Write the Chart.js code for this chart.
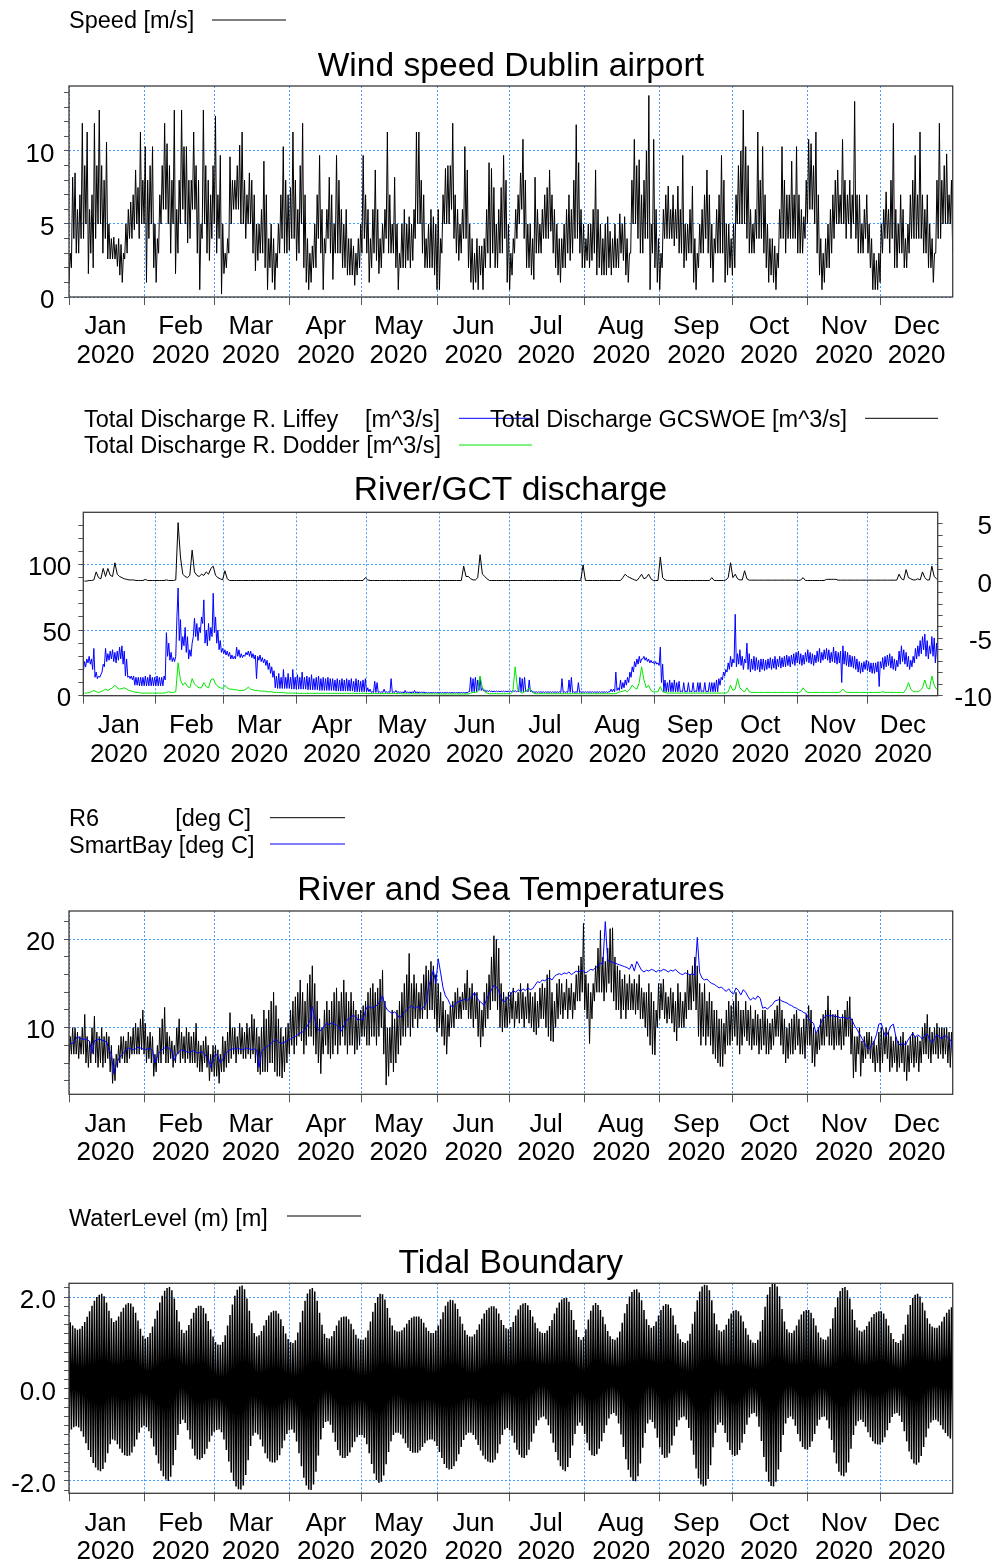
<!DOCTYPE html>
<html>
<head>
<meta charset="utf-8">
<title>Dublin 2020 boundary data</title>
<script src="https://cdn.jsdelivr.net/npm/chart.js@4.4.1/dist/chart.umd.min.js"></script>
<style>
  html, body { margin: 0; padding: 0; background: #fff; }
  #page { position: relative; width: 992px; height: 1562px; overflow: hidden; }
  #page canvas { position: absolute; left: 0; }
</style>
</head>
<body>
<div id="page">
  <canvas id="windChart" width="992" height="380" style="top:0px"></canvas>
  <canvas id="riverChart" width="992" height="390" style="top:390px"></canvas>
  <canvas id="tempChart" width="992" height="390" style="top:790px"></canvas>
  <canvas id="tideChart" width="992" height="377" style="top:1185px"></canvas>
</div>
<script>
// x axis: day of year 2020 (0 = 1 Jan)
const monthStarts = [0, 31, 60, 91, 121, 152, 182, 213, 244, 274, 305, 335];
const monthNames = ['Jan', 'Feb', 'Mar', 'Apr', 'May', 'Jun', 'Jul', 'Aug', 'Sep', 'Oct', 'Nov', 'Dec'];
const yearText = '2020';

// y ticks (minor + labelled)
const windTicks = [0, 1, 2, 3, 4, 5, 6, 7, 8, 9, 10, 11, 12, 13, 14];
const windLabels = [0, 5, 10];
const riverTicks = [0, 10, 20, 30, 40, 50, 60, 70, 80, 90, 100, 110, 120, 130];
const riverLabels = [0, 50, 100];
const gcsTicks = [-10, -9, -8, -7, -6, -5, -4, -3, -2, -1, 0, 1, 2, 3, 4, 5];
const gcsLabels = [-10, -5, 0, 5];
const tempTicks = [4, 6, 8, 10, 12, 14, 16, 18, 20, 22];
const tempLabels = [10, 20];
const tideTicks = [-2.2, -2.0, -1.8, -1.6, -1.4, -1.2, -1.0, -0.8, -0.6, -0.4, -0.2, 0, 0.2, 0.4, 0.6, 0.8, 1.0, 1.2, 1.4, 1.6, 1.8, 2.0, 2.2];
const tideLabels = [-2.0, 0, 2.0];

// wind speed, daily low / high [m/s]
const windLo = [
  1,2,4,3,3,4,4,5,1.6,3,2,4,5,5,3,4,2.6,2.6,2.6,2.6,2.1,1.5,1,2.6,3,4,4,4.6,5,4,5,
  5,1,4,5,2,1,3,5,6,6,5,3,5,1.6,3,5,6,5,3.7,4,6,6,3,0.5,4,5,3,2.5,4,
  5,3,4,0.2,1.6,2,3,5,6,6,6,5,5,4,5,5,3,1.8,2.5,3,3,2,0.5,2,1,0.5,2,3,4,3,3,
  3.2,4,4,2.5,3,5,2,1,0.5,1,2,2,4,3,0.5,3,4,3,1.2,3,3,3,2,2,1.5,1.5,1.5,0.8,1.5,2,
  3,4,3,1,2,3,2.5,1.6,2,3,4,3,3,3,2,0.5,2,2,2,2.5,2,2.5,4,5,5,3,2,2,2,2,1.5,
  0.5,0.5,3,5,5,5,6,4,3,2.5,3,4,4,2,1,0.5,1,0.5,1.5,0.5,2,3,2,3,2,2,3,3,4,1,
  0.5,1.5,3,4,5,6,4,2,2,1.5,1.2,3,3,3,4,4,4,4.5,3,2,1.5,1,2,2,3,2.5,3,4,4,3,2,
  2,2.5,2,2.5,3,1.5,2,1.5,1.5,1.5,2,1.5,2,2,2,3,2.5,1.5,1,3,5,5,4,3,3,4,4,0.5,3,2,1,
  0.5,2,4,4,4,4,3.5,4,3,3,2,2.5,3,3,1,0.5,2,3,3,4,3,2,1,3,3,3,3,1,1.5,2,
  1.5,2,5,5,5,5,4,3,3,3,4,4,4,3,2,1,1.5,1,0.5,2,4,4,3,4,4,4,4,3,3,3,4,
  5,6,6,5,3,1.5,0.5,1,2,2,3,4,5,5,5,5,4,5,4,5,4,3,3,3,4,3,2,0.5,0.5,0.5,
  1,3,4,4,3,4,2,2,3,3,2,2,3,4,4,4,4,4,3,3,2,2,1,3,4,4,5,5,5,5,3
];
const windHi = [
  3,8.2,8.5,6,7,11.9,9,11.3,6,7,11.9,9,12.8,9,8,10.6,5,4,4.1,3.6,4,3.6,3,5,6,6.5,7,8.7,7.5,11.3,8,
  10.3,8,9,10.3,5,4,7,9,11.9,10.5,9,8,12.8,6,8,12.8,10.3,10.3,8,8,11.3,9,8,5,12.8,9,8,7,9,
  12.4,7,9.7,5,3,4,9.6,8,8,9,10.4,11.3,8,7,8.5,8,7,5,5,6,9.3,7,4,5,4,3,5,7,10.3,8,7,
  7.5,11.3,8,6,9,11.9,7,4,3,3.5,5,7,9.7,6,4,6,8.2,7,5,9.7,8,6,5,6,4,4,3.5,3,4,5,
  9.7,7,6,4,6,8.7,6,4,5,6,11.3,7,5,8.2,5,3,5,6,5,5.5,5,6,11.3,11.3,8,7,4,5,6,5.5,5,
  6,4,7,8.8,9,9,11.9,7,6,5,6,10.3,8.7,5,4,3,4,3.5,3.5,4,6,9.2,8.8,7.5,5,6,7.5,9.7,8,5,
  3,4,6,7,8.5,10.8,8,5,5,4,8.2,6,5,6,7,7.5,8.7,7,6,5,4,4,5,6,7,6,8,11.8,9.2,6,5,
  4,5,5,6,8.7,6,5,4,5,5.5,4.5,4,5,4,5.7,5,5.5,4,3,8,10.8,9,9.4,7,8,10,13.8,5,10.8,6,4,
  3,6,7,7.6,6,7,6,7.6,6,9.7,5,5,6,7.6,4,3,5,6,7,8.7,7,5,4,6,7,9.7,8,5,5,4,
  5,7,9,10,12.8,10.3,9,6,5,6,11.3,8,10.3,7,5,4,4,3.5,3,6,10.3,8,7,7,9.3,7,10.3,7,6,5.5,8,
  10.8,10.5,9,11.3,7,4,3,4,5,6,7,8,8.7,7,10.8,8,7,8,7,13.4,7,7,5,6,7,5,4,3,2.5,3,
  5,6,7.2,6,8,11.9,6,5,7,6,4,5,7,8,9.7,7,11.3,7,6,7,5,4,3,8,11.9,8,9,9.8,7,8,7
];

// R. Liffey discharge, daily low / high [m^3/s]
const liffeyLo = [
  18,22,25,24,20,14,13,14,18,22,26,27,28,26,25,27,28,24,15,14,13,12,8,8,7.5,7.5,7.5,7.5,7.5,7.5,7.5,
  7.5,7.5,7.5,7.5,12,30,27,26,26,60,42,35,38,33,28,30,45,45,42,48,55,40,38,42,45,48,40,35,33,
  32,31,30,28,28,28,30,29,29,30,31,30,29,28,13,27,26,25,23,20,17,14,6,5.5,5.5,5.5,5.5,5.5,5.5,5,5,
  5,5,5,5,5,4.5,4.5,4.5,4.5,4.5,4,4,4,4,4,4,4,3.5,3.5,3.5,3.5,3.5,3.5,3.5,3.5,3,3,3,3,3,
  3,3,2.5,2.5,2.5,2.5,2.5,2.5,2.5,2.5,2.5,2.5,2.5,2.5,2.5,2,2,2,2,2,2,2,2,2,2,2,2,2,2,2,2,
  2,2,2,2,2,2,2,2,2,2,2,2,2,3,3,3,3,4,4,3.5,3,3,3,3,3,3,3,3,3,3,
  3,3,3,3,3,3,3,3,3,3,2.5,2.5,2.5,2.5,2.5,2.5,2.5,2.5,2.5,2.5,2.5,2.5,2.5,2.5,2.5,2.5,2.5,2.5,2.5,2.5,2.5,
  2.5,2.5,2.5,2.5,2.5,2.5,2.5,2.5,2.5,2.5,2.5,2.5,3,3,3,4,4,5,6,8,10,14,18,22,24,25,28,27,26,25,25,
  24,24,23,10,3,3,3,3,3,3,3,3,3,3,3,3,3,3,3,3,3,3,3,3,3,3,3,3,8,12,
  15,18,20,22,25,22,24,23,20,25,20,18,20,19,20,18,20,19,20,21,20,21,20,22,21,22,22,23,22,24,23,
  25,24,23,24,26,25,24,23,25,26,25,27,28,27,25,26,25,24,25,10,24,23,22,22,21,20,18,17,18,20,
  19,18,17,17,18,7,21,20,22,23,21,20,19,22,24,26,24,22,20,22,25,28,30,32,35,30,28,32,30,25,24
];
const liffeyHi = [
  26,28,30,28,36,18,15,16,24,36,32,34,35,33,34,37,38,34,28,15,15,15,14,14,14,14,15,14,16,14,14,
  15,14,14,15,48,40,33,29,30,82,58,45,52,45,35,40,59,55,52,60,73,50,55,52,78,60,50,42,36,
  35,34,33,31,30,37,35,32,31,33,34,34,32,31,30,31,29,28,27,25,22,19,15,17,14,20,14,17,14,20,14,
  16,14,18,14,15,14,16,13,14,15,13,14,13,14,13,13,12,13,12,13,12,13,12,13,11,13,12,11,12,13,
  6,5,3,11,10,3,3,5,3,3,13,3,4,3,3,3,4,3,3,3,4,3,3,3,3,2.5,2.5,2.5,2.5,2.5,2.5,
  2.5,2.5,2.5,2.5,2.5,2.5,2.5,2.5,2.5,2.5,2.5,2.5,3,14,13,14,12,14,6,4.5,4,4,3.5,3.5,3.5,3.5,3.5,3.5,3.5,3.5,
  3.5,4,4,3.5,14,13,14,4,12,4,3,3,3,3,3,3,3,3,3,3,3,3,13,3,3,12,14,3,3,10,3,
  3,3,3,3,3,3,3,3,3,3,3,3,5,5,18,6,12,10,12,14,18,22,26,28,30,28,30,29,28,27,26,
  26,25,37,24,12,10,12,10,12,10,11,3.5,10,3.5,10,3.5,10,3.5,10,10,3.5,10,3.5,10,10,10,12,13,14,18,
  20,25,30,28,62,32,35,30,28,40,32,28,30,29,27,28,28,27,28,29,28,30,28,30,29,30,31,30,31,32,33,
  34,32,31,33,35,33,32,31,34,36,33,35,36,35,33,37,34,33,34,38,34,33,31,30,30,28,26,25,26,27,
  26,25,25,25,26,26,29,30,31,32,30,28,27,34,38,35,33,30,27,30,36,38,42,45,47,42,38,45,44,40,30
];

// R. Dodder discharge, daily [m^3/s]
const dodder = [
  2,2,2.5,3,4,3,2.5,3,4,5,4,5,6,8,6,5,5.5,6,5,4,3.5,3,2.5,2.5,2,2,2,2,2,2,2,
  2,2,2,2,2.5,3,2.5,2.5,3,25,12,8,10,7,6,13,9,7,6,6,10,7,6,12,13,9,7,6,5.5,
  8,6,5,5,4.5,4.5,4,4,4,5,6.5,5,4.5,4,4,3.5,3.5,3.5,3,3,3,2.5,2.5,2.5,2.5,2.5,2,2,2,2,2,
  1.8,1.8,1.8,1.8,1.8,1.8,1.8,1.8,1.8,1.8,1.8,1.8,1.8,1.8,1.8,1.8,1.8,1.8,1.8,1.8,1.8,1.8,1.8,1.8,1.8,1.8,1.8,1.8,1.8,1.8,
  1.6,1.6,1.6,1.6,1.6,1.6,1.6,1.6,1.6,1.6,1.6,1.6,1.6,1.6,1.6,1.4,1.4,1.4,1.4,1.4,1.4,1.4,1.4,1.4,1.4,1.4,1.4,1.4,1.4,1.4,1.4,
  1.3,1.3,1.3,1.3,1.3,1.3,1.3,1.3,1.3,1.3,1.3,1.3,1.3,2,2.5,2.5,3,15,6,3,2,1.5,1.5,1.5,1.5,1.5,1.5,1.5,1.5,1.5,
  1.5,3,22,5,3,2,3,4,6,3,2,1.5,1.5,1.5,1.5,1.5,1.5,1.5,1.5,1.5,1.5,1.5,1.5,1.5,1.5,1.5,1.5,1.5,1.5,1.5,1.5,
  1.5,1.5,1.5,1.5,1.5,1.5,1.5,1.5,1.5,1.5,1.5,1.5,1.5,1.5,1.5,2.5,3,3.5,4,3,5,8,6,5,10,22,12,6,8,4,3,
  3,3,7,3,2.5,2,2,2,2,2,2,2,2,2,2,2,2,2,2,2,2,2,2,2,2,2,2,2,2,2,
  2,3,8,4,5,13,6,4,3,6,3,2.5,2.5,2.5,2.5,2.5,2.5,2.5,2.5,2.5,2.5,2.5,2.5,2.5,2.5,2.5,2.5,2.5,2.5,2.5,2.5,
  2.5,3,6,3.5,2.5,2.5,2.5,2.5,2.5,2.5,2.5,2.5,2.5,2.5,2.5,2.5,2.5,2.5,3,5,3,2.5,2.5,2.5,2.5,2.5,2.5,2.5,2.5,2.5,
  2.5,2.5,2.5,2.5,2.5,2.5,3,2.5,2.5,2.5,2.5,2.5,2.5,2.5,2.5,2.5,5,10,5,3,3,3,4,6,12,6,5,15,8,5,4
];

// GCSWOE discharge, daily [m^3/s] (right axis)
const gcswoe = [
  0,0,0.05,0.05,0.1,0.8,0.3,0.2,1.1,0.4,1.1,0.5,0.4,1.6,0.6,0.4,0.3,0.2,0.15,0.1,0.1,0.1,0.05,0.05,0.05,0.05,0.15,0.05,0.05,0.05,0.05,
  0.05,0.05,0.05,0.05,0.1,0.05,0.05,0.05,0.1,5.1,2.1,0.6,0.4,0.3,0.5,2.7,0.8,0.5,0.4,0.6,0.5,0.8,0.6,1.1,1.3,0.5,0.3,0.2,0.1,
  0.9,0.2,0.05,0.05,0.05,0.05,0.05,0.05,0.05,0.05,0.05,0.05,0.05,0.05,0.05,0.05,0.05,0.05,0.05,0.05,0.05,0.05,0.05,0.05,0.05,0.05,0.05,0.05,0.05,0.05,0.05,
  0.05,0.05,0.05,0.05,0.05,0.05,0.05,0.05,0.05,0.05,0.05,0.05,0.05,0.05,0.05,0.05,0.05,0.05,0.05,0.05,0.05,0.05,0.05,0.05,0.05,0.05,0.05,0.05,0.05,0.3,
  0.1,0.05,0.05,0.05,0.05,0.05,0.05,0.05,0.05,0.05,0.05,0.05,0.05,0.05,0.05,0.05,0.05,0.05,0.05,0.05,0.05,0.05,0.05,0.05,0.05,0.05,0.05,0.05,0.05,0.05,0.05,
  0.05,0.05,0.05,0.05,0.05,0.05,0.05,0.05,0.05,0.05,1.3,0.4,0.4,0.2,0.1,0.1,0.3,2.3,0.6,0.4,0.2,0.05,0.05,0.05,0.05,0.05,0.05,0.05,0.05,0.05,
  0.05,0.05,0.05,0.05,0.05,0.05,0.05,0.05,0.05,0.05,0.05,0.05,0.05,0.05,0.05,0.05,0.05,0.05,0.05,0.05,0.05,0.05,0.05,0.05,0.05,0.05,0.05,0.05,0.05,0.05,0.05,
  1.4,0.05,0.05,0.05,0.05,0.05,0.05,0.05,0.05,0.05,0.05,0.05,0.05,0.05,0.05,0.05,0.05,0.3,0.6,0.4,0.3,0.2,0.1,0.05,0.3,0.6,0.2,0.3,0.6,0.2,0.05,
  0.05,0.05,2.1,0.3,0.1,0.05,0.05,0.05,0.05,0.05,0.05,0.05,0.05,0.05,0.05,0.05,0.05,0.05,0.05,0.05,0.05,0.05,0.05,0.05,0.3,0.05,0.05,0.05,0.05,0.05,
  0.1,0.3,1.6,0.3,0.6,0.2,0.1,0.1,0.9,0.2,0.08,0.08,0.08,0.08,0.08,0.08,0.08,0.08,0.08,0.08,0.08,0.08,0.08,0.08,0.08,0.08,0.08,0.08,0.08,0.08,0.08,
  0.05,0.1,0.3,0.05,0.05,0.05,0.05,0.05,0.05,0.05,0.05,0.05,0.15,0.15,0.15,0.15,0.15,0.08,0.08,0.08,0.08,0.08,0.08,0.08,0.08,0.08,0.08,0.08,0.08,0.08,
  0.08,0.08,0.08,0.08,0.08,0.08,0.08,0.08,0.08,0.08,0.08,0.08,0.08,0.6,0.2,0.1,1.0,0.3,0.2,0.1,0.1,0.2,0.1,0.8,0.3,0.1,0.1,1.3,0.4,0.2,0.1
];

// R6 river temperature, daily low / high [deg C]
const r6Lo = [
  6,7,7,7,6.5,7,7,6,5.5,6,7,6,5.5,6,5.5,6,6.5,5,3.7,4,5.5,6,6.5,6,6,6.5,7,7,7,7,7.5,
  7,6,6.5,6,4.5,5,6,6,7,6,6,6.5,5.5,6,7,6,6.5,6,6.5,6,6,6,5.5,5,5,6,5.5,4,5,
  4.5,4.5,3.7,5,5,5.5,6,6.5,7,6,7,7,6.5,6.5,7,6.5,7,6,5,4.7,5,5,5,6,6,5,4.5,4.5,4.3,5,6,
  7,8,7,8,9,8.5,7,8,9,9,8,7,6,4.8,7,8,7,6.5,7,8,7,8,9,8,7,8,8,7,7.5,8,
  9,9,8,8,9,9,8,9,10,7,3.5,4.5,6,5,6,7,8,9,9,10,9,10,11,10,11,11,12,11,12,12,11,
  9.5,10,9,8,7,9,10,10,11,11,11,12,12,11,11,10,11,9,7.8,9,10,11,12,13,13,12,10,9.5,10,10,
  10.5,11,10,11,10.5,11,10,11,10.5,10,9.5,9.2,10,11,11,10,9,8.5,8.4,10,11,11.5,11,12,11,12,11,12,13,13,14,
  12,11,8.2,11,13,14,14,14,13,14,15,14,13,12,12,11,12,11,12,12,12,11.5,12,11,11,10,9,8,7,6.9,10,
  11,12,11,10.5,11,10.5,9.5,8.5,10,10,10,11,12,12,13,12,9,8,9,8,9,8,7,6.5,6,5.6,5.6,7,8,8,
  8.5,9,8,7,8,9,8.5,8,7.5,8,8,7,7.5,8,7,7,7.5,8,9,9,8,7,6,6.5,7,7,7.5,8,7,7,6.5,
  8,8,6,5.6,7,7.5,8,8,9,8,8,7.5,8,8,7.5,8,9,9,7,4.3,5,7,4.5,6,6.5,7,6.5,6,5,6,
  5,6,7,6.5,5,5.5,6,5,5.5,6,5,4,5,6,5.5,6,5,6,7,7,6.5,6,7,7,6.5,7,6.5,7,6,5.5,6
];
const r6Hi = [
  9,10,10,9.5,9,10,11.5,9,8.5,10,11.3,9.5,9,10,9,9.5,9,8,6.5,7,8,9,9,8.5,9.5,9,10,10.5,10,11,12,
  10.5,9,9.5,9,7,8,10,11,12.3,9.5,9,8.5,8,10,11,9.5,9,10,9.5,9,9.5,10.5,8.5,8,8.5,9,8,7,8,
  8,7.5,7,9,8.5,9.5,11.7,10,10,9,10.5,10,9.5,10.5,10,11.5,11,10,9,10,12,11,12,13,14,12.5,11,10,9,10,10.5,
  12,13,13.5,14,15.4,14,13,15,16,17,15,13,11,10,12,13,12,13,14,14.5,13,14,15.4,14,13,14,13,12,11.5,12,
  12.5,13,14,14.5,15,14,14.5,15.5,16.5,13,10,10,12,11,12,13,14,15,16,18.4,15,16,15,14,15,16,17,16.5,17.5,17,16,
  15,14,13,12,11.5,12.5,13,14,14.5,13.5,14,15,16.5,14.5,15,14,14,13,12,14,15,16,18,20.4,20,19,15,14,13.5,14,
  14,14.5,13,14,15,14,13.5,15,14,13.5,14,13,14.5,15,14.5,16,16.5,14,13,15,15.5,15,14,15.5,14.5,15,14,16,17,18,21.8,
  16,15,14,15,17,19,21,18,17.5,19,21.2,21.3,18,17,16.5,15.5,16,15,16,15,15.5,15,16,14.5,14,14,15,14,13,12,15,
  15,15.5,14,13.5,14.5,14,13,15,14,13,14,16.5,16,17,18,17,15,14,15,13,14,13,12,12,11,11,10.5,12,13,12.5,
  13,14,13,12,12,13,12,12.5,11,12,11.5,11,12,12,11,10.5,11,12,12.5,13.5,12,11,10,10.5,11,11.5,12,11,10,11,11.5,
  12.5,12,10,9.5,10,11,11.5,12,13.6,12,11.5,11.5,12,11,11.5,12,13,13.5,11,9,9,10,8.5,9,9.5,9.5,9,8.5,8,9.5,
  10,9.5,10,9.5,9,8.5,9,8.5,9,9.5,8.5,8,9,9.5,9,9,8.5,10,10.5,11.5,10,9.5,10,10.5,10,10,10,10,9.5,9.5,9
];

// SmartBay sea temperature, daily [deg C]
const smartBay = [
  8.2,8.2,8.6,9,8.8,8.7,8.7,8.7,8.4,7.1,8.5,8.6,8.7,8.6,8.5,8.4,7.5,7,4.8,5.8,6.5,6.8,7.1,7.5,7.7,7.6,7.5,7.6,7.8,7.7,7.6,
  7.5,7.6,7.7,7.4,6,6.8,7.3,7.5,7.7,7.8,7.6,7.4,6.3,7,7.3,7.5,7.4,7.3,7.2,7.3,7.4,7.2,7.1,7.3,7.2,6.8,6.5,5.5,6.5,
  7,6.8,6,6.4,7,7.3,7.5,7.6,7.6,7.7,7.6,7.5,7.6,7.7,7.6,7.5,7.6,7.5,5.5,7.3,7.6,7.8,8,8.2,8.5,8.7,8.4,8.2,8.3,8.4,8.6,
  8.7,8.9,9,9.2,9.4,9.5,9.8,10.2,10.8,12.4,11,10,9.6,9.8,10.2,10.5,10.3,10.6,10.4,10.3,10,9.6,10.2,10.8,11,11.2,11.4,11.2,10.8,11,
  10.9,12,12.5,12.2,12.3,12.4,12.6,13,13.6,12.5,12,11.8,11.6,11.8,11.5,11.1,11.4,11.7,12,12.3,12.5,12.2,12.3,12.4,12.1,12.3,12.8,14.6,15.5,16.5,15,
  17.8,16.2,14.5,13.6,13.2,12.6,12.3,12.7,12.9,13,13.1,13.2,13.1,13.3,13.5,14,13.4,13,12.8,12.5,13.2,13.8,14.3,14.8,14.6,14.2,13.4,12.9,13.1,13.5,
  13.8,14.2,14,14.3,14.1,14.4,14.2,14.5,14.3,14.4,14.8,15.2,15.1,15.4,15.3,15.5,15.6,15.4,15.8,16,16.1,16,16.2,16.1,16.3,16,16.2,16.4,16.3,16.5,16.4,
  16.2,16.4,16.6,16.5,16.8,17,17.3,17.2,22,17.6,17.5,17.4,17.3,17.2,17.1,17,16.9,16.8,16.6,17.2,16.4,17.5,17,16.5,16.3,16.5,16.4,16.6,16.5,16.3,16.5,
  16.4,16.6,16.5,16.3,16.5,16.4,16.6,16.3,16.1,16,16.2,16.1,16,16.1,15.9,20.2,16.2,15.6,15.4,15.5,15.2,15,14.9,14.7,14.5,14.6,14.3,14.1,14.4,14,
  13.8,14.5,14.2,13.7,14.3,14,13.5,13.1,13.4,13.2,13.6,13.3,12.2,12.3,12.1,12.4,12.6,13,13.1,13.2,13,12.9,12.8,12.6,12.5,12.3,12.2,12,11.9,11.7,11.6,
  11,10.7,10.5,9.4,9.8,10.5,11,11.3,11.4,11.3,11.4,11.2,11.3,11.1,11.2,11.1,11,11.2,10.8,10.2,9.8,9.3,8.8,8.3,7.8,7.6,8,8.4,9.2,10.4,
  10.5,9.5,9,9.6,10.2,10.4,9,8.2,8,8.3,8,8.6,9,9.4,8.9,9.2,9,8.7,9.1,9.3,8.6,8.3,8.8,9.2,9,8.7,9.1,9,8.8,8.4,5.2
];

// tidal boundary water level, daily high / low [m]
const tideHi = [
  1.45,1.38,1.32,1.29,1.31,1.37,1.46,1.57,1.69,1.81,1.92,2.0,2.05,2.07,2.02,1.88,1.70,1.54,1.46,1.49,
  1.58,1.68,1.77,1.84,1.87,1.86,1.79,1.66,1.49,1.31,1.16,1.1,1.13,1.22,1.36,1.53,1.71,1.88,2.03,2.14,
  2.2,2.22,2.15,1.97,1.72,1.47,1.29,1.22,1.27,1.39,1.53,1.66,1.76,1.81,1.81,1.76,1.64,1.48,1.3,1.14,
  1.02,0.97,0.96,1.02,1.17,1.38,1.61,1.84,2.03,2.16,2.23,2.25,2.17,1.97,1.7,1.43,1.22,1.14,1.17,1.26,
  1.38,1.5,1.6,1.67,1.7,1.7,1.64,1.52,1.37,1.21,1.09,1.02,1.0,1.06,1.23,1.45,1.7,1.92,2.08,2.17,
  2.2,2.12,1.92,1.66,1.4,1.2,1.11,1.1,1.15,1.26,1.38,1.49,1.56,1.58,1.58,1.52,1.42,1.3,1.18,1.1,
  1.07,1.07,1.12,1.27,1.47,1.68,1.87,2.0,2.07,2.06,1.95,1.76,1.55,1.38,1.28,1.25,1.25,1.28,1.34,1.42,
  1.5,1.55,1.58,1.58,1.58,1.53,1.44,1.34,1.26,1.22,1.22,1.27,1.38,1.52,1.67,1.81,1.9,1.94,1.93,1.86,
  1.74,1.58,1.42,1.28,1.18,1.14,1.14,1.19,1.29,1.41,1.53,1.64,1.72,1.77,1.8,1.8,1.75,1.64,1.5,1.39,
  1.32,1.3,1.35,1.46,1.6,1.73,1.82,1.86,1.87,1.82,1.72,1.58,1.44,1.32,1.25,1.22,1.22,1.27,1.37,1.5,
  1.64,1.77,1.88,1.95,1.98,1.98,1.9,1.72,1.5,1.29,1.13,1.07,1.13,1.3,1.51,1.7,1.82,1.87,1.83,1.72,
  1.57,1.41,1.26,1.15,1.09,1.07,1.12,1.25,1.44,1.65,1.85,2.01,2.11,2.16,2.17,2.1,1.93,1.72,1.52,1.39,
  1.33,1.37,1.47,1.6,1.72,1.81,1.85,1.84,1.76,1.6,1.4,1.21,1.08,1.02,1.0,1.05,1.2,1.42,1.68,1.93,
  2.12,2.23,2.27,2.26,2.15,1.93,1.65,1.41,1.28,1.25,1.29,1.4,1.53,1.64,1.7,1.72,1.69,1.6,1.47,1.32,
  1.18,1.07,1.01,1.0,1.07,1.25,1.5,1.79,2.05,2.22,2.3,2.31,2.23,2.02,1.74,1.47,1.3,1.23,1.22,1.27,
  1.38,1.51,1.62,1.69,1.72,1.72,1.66,1.54,1.38,1.23,1.12,1.08,1.07,1.14,1.31,1.54,1.78,1.99,2.13,2.2,
  2.22,2.15,1.97,1.73,1.5,1.34,1.27,1.25,1.29,1.37,1.47,1.56,1.63,1.67,1.69,1.69,1.64,1.53,1.38,1.22,
  1.09,1.02,1.0,1.06,1.2,1.4,1.62,1.83,1.98,2.05,2.07,2.01,1.88,1.71,1.54,1.42,1.36,1.33,1.33,1.38,
  1.47,1.57,1.66,1.73,1.78,1.8
];
const tideLo = [
  -0.95,-0.88,-0.83,-0.81,-0.84,-0.92,-1.04,-1.18,-1.33,-1.48,-1.61,-1.71,-1.77,-1.79,-1.74,-1.6,-1.4,-1.2,-1.1,-1.12,
  -1.2,-1.3,-1.39,-1.44,-1.46,-1.45,-1.38,-1.25,-1.1,-0.95,-0.84,-0.8,-0.83,-0.92,-1.07,-1.25,-1.44,-1.62,-1.78,-1.9,
  -1.97,-2.0,-1.91,-1.66,-1.33,-1.0,-0.76,-0.67,-0.74,-0.9,-1.1,-1.3,-1.45,-1.53,-1.54,-1.5,-1.42,-1.3,-1.15,-1.02,
  -0.93,-0.89,-0.88,-0.94,-1.1,-1.33,-1.58,-1.82,-2.0,-2.12,-2.18,-2.19,-2.1,-1.87,-1.55,-1.24,-1.02,-0.95,-0.99,-1.1,
  -1.25,-1.4,-1.51,-1.58,-1.6,-1.6,-1.55,-1.44,-1.29,-1.12,-0.98,-0.9,-0.88,-0.95,-1.14,-1.4,-1.68,-1.93,-2.1,-2.19,
  -2.2,-2.08,-1.8,-1.45,-1.1,-0.85,-0.72,-0.7,-0.78,-0.95,-1.15,-1.33,-1.45,-1.5,-1.5,-1.46,-1.38,-1.27,-1.15,-1.05,
  -1.0,-1.0,-1.06,-1.2,-1.4,-1.63,-1.84,-1.98,-2.04,-2.02,-1.88,-1.64,-1.37,-1.14,-1.0,-0.95,-0.95,-0.99,-1.08,-1.18,
  -1.28,-1.35,-1.39,-1.39,-1.39,-1.34,-1.26,-1.18,-1.12,-1.1,-1.1,-1.14,-1.24,-1.37,-1.5,-1.63,-1.72,-1.75,-1.74,-1.68,
  -1.57,-1.42,-1.26,-1.11,-1.0,-0.95,-0.95,-1.0,-1.1,-1.22,-1.34,-1.45,-1.53,-1.58,-1.6,-1.6,-1.54,-1.4,-1.2,-1.0,
  -0.88,-0.85,-0.9,-1.02,-1.17,-1.32,-1.43,-1.49,-1.5,-1.44,-1.32,-1.15,-0.97,-0.8,-0.68,-0.62,-0.6,-0.66,-0.79,-0.97,
  -1.17,-1.37,-1.55,-1.68,-1.76,-1.79,-1.7,-1.5,-1.23,-0.98,-0.8,-0.73,-0.8,-0.98,-1.17,-1.34,-1.44,-1.46,-1.42,-1.3,
  -1.14,-0.96,-0.79,-0.64,-0.55,-0.52,-0.58,-0.75,-0.99,-1.26,-1.53,-1.76,-1.92,-2.0,-2.01,-1.9,-1.62,-1.28,-0.96,-0.75,
  -0.67,-0.72,-0.86,-1.06,-1.27,-1.43,-1.5,-1.49,-1.4,-1.23,-1.02,-0.82,-0.68,-0.62,-0.6,-0.67,-0.85,-1.12,-1.43,-1.73,
  -1.95,-2.08,-2.12,-2.1,-1.96,-1.66,-1.27,-0.95,-0.78,-0.73,-0.79,-0.96,-1.16,-1.33,-1.43,-1.46,-1.43,-1.33,-1.17,-0.98,
  -0.78,-0.62,-0.54,-0.52,-0.6,-0.82,-1.13,-1.48,-1.8,-2.02,-2.11,-2.12,-2.02,-1.75,-1.37,-1.0,-0.75,-0.63,-0.6,-0.66,
  -0.8,-0.98,-1.14,-1.26,-1.31,-1.32,-1.26,-1.14,-0.98,-0.8,-0.67,-0.61,-0.6,-0.68,-0.86,-1.11,-1.38,-1.62,-1.8,-1.88,
  -1.9,-1.82,-1.6,-1.3,-1.0,-0.8,-0.7,-0.67,-0.72,-0.82,-0.94,-1.05,-1.14,-1.19,-1.21,-1.21,-1.16,-1.05,-0.9,-0.74,
  -0.61,-0.54,-0.52,-0.58,-0.72,-0.92,-1.14,-1.36,-1.53,-1.62,-1.65,-1.6,-1.46,-1.26,-1.05,-0.86,-0.73,-0.68,-0.67,-0.71,
  -0.79,-0.88,-0.96,-1.03,-1.08,-1.1
];

const FONT = '"Liberation Sans", Arial, Helvetica, sans-serif';
const GRID_BLUE = 'rgba(60,150,255,0.95)';
const TICK_GREY = '#555';
Chart.defaults.font.family = FONT;
Chart.defaults.color = '#000';

// low/high pair per day -> two points inside that day
function dayPairs(lo, hi) {
  const pts = [];
  lo.forEach((v, i) => { pts.push({ x: i, y: v }, { x: i + 0.5, y: hi[i] }); });
  return pts;
}
function dayPoints(vals) {
  return vals.map((v, i) => ({ x: i + 0.5, y: v }));
}

function xAxis(height, labelOffset) {
  return {
    type: 'linear', min: 0, max: 365,
    afterBuildTicks: s => { s.ticks = monthStarts.map(v => ({ value: v })); },
    afterFit: s => { s.height = height; },
    ticks: {
      autoSkip: false, maxRotation: 0, minRotation: 0, labelOffset: labelOffset, padding: 8,
      font: { size: 26, lineHeight: 1.1 }, color: '#000',
      callback: v => { const i = monthStarts.indexOf(v); return i < 0 ? '' : [monthNames[i], yearText]; }
    },
    grid: { color: GRID_BLUE, lineWidth: 1, tickColor: TICK_GREY, tickLength: 8, tickBorderDash: [] },
    border: { display: false, dash: [2, 2] }
  };
}

function yAxis(o) {
  return {
    type: 'linear', position: o.position || 'left', min: o.min, max: o.max, z: 1,
    afterBuildTicks: s => { s.ticks = o.ticks.map(v => ({ value: v })); },
    afterFit: s => { s.width = o.width; },
    ticks: {
      autoSkip: false, padding: o.pad, labelOffset: 3.5, crossAlign: o.position === 'right' ? 'far' : 'near',
      font: { size: 26 }, color: '#000',
      callback: v => o.labels.includes(v) ? (o.digits ? v.toFixed(o.digits) : String(v)) : ''
    },
    grid: {
      drawOnChartArea: o.grid !== false,
      color: c => (c.tick && o.labels.includes(c.tick.value)) ? GRID_BLUE : 'rgba(0,0,0,0)',
      lineWidth: 1, tickColor: TICK_GREY, tickLength: 5, tickBorderDash: []
    },
    border: { display: false, dash: [2, 2] }
  };
}

// frame, title and legend of one panel
function decor(cfg) {
  return {
    id: 'decor',
    afterDraw(chart) {
      const ctx = chart.ctx, a = chart.chartArea;
      ctx.save();
      ctx.strokeStyle = '#3c3c3c';
      ctx.lineWidth = 1.3;
      ctx.strokeRect(a.left, a.top, a.right - a.left, a.bottom - a.top);
      ctx.fillStyle = '#000';
      ctx.textBaseline = 'alphabetic';
      ctx.font = '33.6px ' + FONT;
      ctx.textAlign = 'center';
      ctx.fillText(cfg.title, (a.left + a.right) / 2, cfg.titleY);
      ctx.font = '23.5px ' + FONT;
      cfg.legend.forEach(e => {
        ctx.strokeStyle = e.color;
        ctx.lineWidth = 1;
        ctx.beginPath();
        ctx.moveTo(e.x1, e.ly);
        ctx.lineTo(e.x2, e.ly);
        ctx.stroke();
        ctx.textAlign = 'left';
        ctx.fillText(e.text, e.x, e.y);
        if (e.unit) { ctx.textAlign = 'right'; ctx.fillText(e.unit, e.unitX, e.y); }
      });
      ctx.restore();
    }
  };
}

function panel(id, cfg) {
  return new Chart(document.getElementById(id), {
    type: 'line',
    data: { datasets: cfg.datasets },
    options: {
      responsive: false, animation: false, events: [],
      layout: { padding: cfg.padding },
      plugins: { legend: { display: false }, tooltip: { enabled: false }, title: { display: false } },
      elements: { point: { radius: 0 }, line: { borderWidth: 1, tension: 0 } },
      scales: cfg.scales
    },
    plugins: [decor(cfg)]
  });
}

panel('windChart', {
  title: 'Wind speed Dublin airport', titleY: 75.7,
  legend: [{ text: 'Speed [m/s]', x: 69, y: 28.3, x1: 212, x2: 286, ly: 20, color: '#000' }],
  padding: { top: 86, right: 39.3, left: 0, bottom: 0 },
  datasets: [{ data: dayPairs(windLo, windHi), borderColor: '#000', borderWidth: 1, pointRadius: 0, parsing: false }],
  scales: {
    x: xAxis(83, 36.5),
    y: yAxis({ min: 0, max: 14.45, ticks: windTicks, labels: windLabels, width: 69, pad: 9.5 })
  }
});

panel('riverChart', {
  title: 'River/GCT discharge', titleY: 110,
  legend: [
    { text: 'Total Discharge R. Liffey', unit: '[m^3/s]', unitX: 440, x: 84, y: 36.7, x1: 459, x2: 532, ly: 28.3, color: '#0000ff' },
    { text: 'Total Discharge R. Dodder [m^3/s]', x: 84, y: 63, x1: 459, x2: 532, ly: 55, color: '#00e600' },
    { text: 'Total Discharge GCSWOE [m^3/s]', x: 490, y: 36.7, x1: 865, x2: 938, ly: 28.3, color: '#000' }
  ],
  padding: { top: 122.3, right: 0, left: 0, bottom: 0 },
  datasets: [
    { data: dayPoints(dodder), borderColor: '#00e600', borderWidth: 1, pointRadius: 0, parsing: false, yAxisID: 'y', order: 0 },
    { data: dayPairs(liffeyLo, liffeyHi), borderColor: '#0000ff', borderWidth: 1, pointRadius: 0, parsing: false, yAxisID: 'y', order: 1 },
    { data: dayPoints(gcswoe), borderColor: '#000', borderWidth: 1, pointRadius: 0, parsing: false, yAxisID: 'y2', order: 2 }
  ],
  scales: {
    x: xAxis(84.3, 35.5),
    y: yAxis({ min: 0, max: 139.7, ticks: riverTicks, labels: riverLabels, width: 83.3, pad: 7 }),
    y2: yAxis({ position: 'right', min: -10, max: 6, ticks: gcsTicks, labels: gcsLabels, width: 54.3, pad: 9, grid: false })
  }
});

panel('tempChart', {
  title: 'River and Sea Temperatures', titleY: 110,
  legend: [
    { text: 'R6', unit: '[deg C]', unitX: 251, x: 69, y: 36, x1: 270, x2: 345, ly: 27.7, color: '#000' },
    { text: 'SmartBay [deg C]', x: 69, y: 62.7, x1: 270, x2: 345, ly: 54, color: '#0000ff' }
  ],
  padding: { top: 121, right: 39.3, left: 0, bottom: 0 },
  datasets: [
    { data: dayPoints(smartBay), borderColor: '#0000ff', borderWidth: 1, pointRadius: 0, parsing: false, order: 0 },
    { data: dayPairs(r6Lo, r6Hi), borderColor: '#000', borderWidth: 1, pointRadius: 0, parsing: false, order: 1 }
  ],
  scales: {
    x: xAxis(85.7, 36.5),
    y: yAxis({ min: 2.46, max: 23.2, ticks: tempTicks, labels: tempLabels, width: 69, pad: 9 })
  }
});

panel('tideChart', {
  title: 'Tidal Boundary', titleY: 87.7,
  legend: [{ text: 'WaterLevel (m) [m]', x: 69, y: 41, x1: 287, x2: 361, ly: 31, color: '#000' }],
  padding: { top: 98.3, right: 39.3, left: 0, bottom: 0 },
  datasets: [{ data: dayPairs(tideLo, tideHi), borderColor: '#000', borderWidth: 1.5, pointRadius: 0, parsing: false }],
  scales: {
    x: xAxis(68.7, 36.5),
    y: yAxis({ min: -2.27, max: 2.3, ticks: tideTicks, labels: tideLabels, width: 69, pad: 8, digits: 1 })
  }
});
</script>
</body>
</html>
